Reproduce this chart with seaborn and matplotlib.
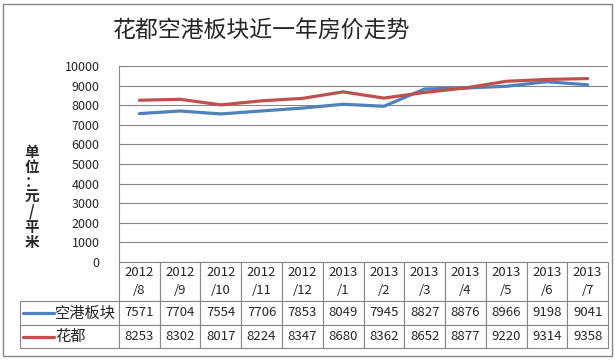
import numpy as np
import pandas as pd
import seaborn as sns
from matplotlib import pyplot as plt
from matplotlib.patches import Rectangle
from matplotlib.lines import Line2D

months = ['2012\n/8', '2012\n/9', '2012\n/10', '2012\n/11', '2012\n/12', '2013\n/1',
          '2013\n/2', '2013\n/3', '2013\n/4', '2013\n/5', '2013\n/6', '2013\n/7']
airport = [7571, 7704, 7554, 7706, 7853, 8049, 7945, 8827, 8876, 8966, 9198, 9041]
huadu = [8253, 8302, 8017, 8224, 8347, 8680, 8362, 8652, 8877, 9220, 9314, 9358]
series_names = ['空港板块', '花都']
colors = ['#4F81BD', '#C0504D']
yticks = [0, 1000, 2000, 3000, 4000, 5000, 6000, 7000, 8000, 9000, 10000]

sns.set_style('white')
plt.rcParams['font.family'] = ['Noto Sans CJK SC', 'DejaVu Sans']

df = pd.DataFrame({
    'idx': list(range(len(months))) * 2,
    'price': airport + huadu,
    'series': [series_names[0]] * len(months) + [series_names[1]] * len(months),
})

W, H = 615, 360
fig = plt.figure(figsize=(W / 100, H / 100), dpi=100)
ax = fig.add_axes([119 / W, 1 - 262 / H, (608 - 119) / W, (262 - 66) / H])

sns.lineplot(data=df, x='idx', y='price', hue='series', palette=colors,
             linewidth=2.3, legend=False, ax=ax)

ax.set_xlim(-0.5, len(months) - 0.5)
ax.set_ylim(0, 10000)
ax.set_yticks(yticks)
ax.set_yticklabels([str(v) for v in yticks], fontsize=9)
ax.tick_params(axis='y', length=0, pad=14)
ax.set_xticks([])
ax.set_xlabel('')
ax.set_ylabel('')
ax.grid(axis='y', color='#868686', linewidth=0.8)
for side in ['top', 'right', 'bottom']:
    ax.spines[side].set_visible(False)
ax.spines['left'].set_color('#868686')
ax.spines['left'].set_linewidth(0.8)

# data table under the plot (row labels drawn separately with legend keys)
cell_text = [[str(v) for v in airport], [str(v) for v in huadu]]
rows = [[''] + months] + [[''] + cell_text[i] for i in range(2)]
col_w = [(119 - 20)] + [(608 - 119) / len(months)] * len(months)
x0 = (20 - 119) / (608 - 119)
tbl = ax.table(cellText=rows, colWidths=col_w, cellLoc='center',
               bbox=[x0, -(348 - 262) / 196, 1 - x0, (348 - 262) / 196])
tbl.auto_set_font_size(False)
row_h = [39, 24, 23]
for (r, c), cell in tbl.get_celld().items():
    cell.set_height(row_h[r])
    cell.set_edgecolor('#868686')
    cell.set_linewidth(0.8)
    cell.get_text().set_fontsize(9.5)
    if r == 0 and c == 0:
        cell.visible_edges = ''
    if r == 0:
        cell.get_text().set_linespacing(1.45)

row_y = [313, 336.5]
for i, col in enumerate(colors):
    yc = -(row_y[i] - 262) / 196
    ax.add_line(Line2D([(23 - 119) / 489, (54 - 119) / 489], [yc, yc], color=col,
                       linewidth=2.3, transform=ax.transAxes, clip_on=False))
    fig.text(55 / W, 1 - row_y[i] / H, series_names[i], ha='left', va='center',
             fontsize=11)

fig.text(262 / W, 1 - 31 / H, '花都空港板块近一年房价走势', ha='center', va='center',
         fontsize=16.5)
fig.text(32 / W, 1 - 197 / H, '\n'.join('单位：元/平米'), ha='center', va='center',
         fontsize=10.5, fontweight='bold', linespacing=0.92)
fig.patches.append(Rectangle((3 / W, 4 / H), (612 - 3) / W, (356 - 4) / H,
                             transform=fig.transFigure, fill=False,
                             edgecolor='#868686', linewidth=1))

fig.savefig('out.png', dpi=100)
